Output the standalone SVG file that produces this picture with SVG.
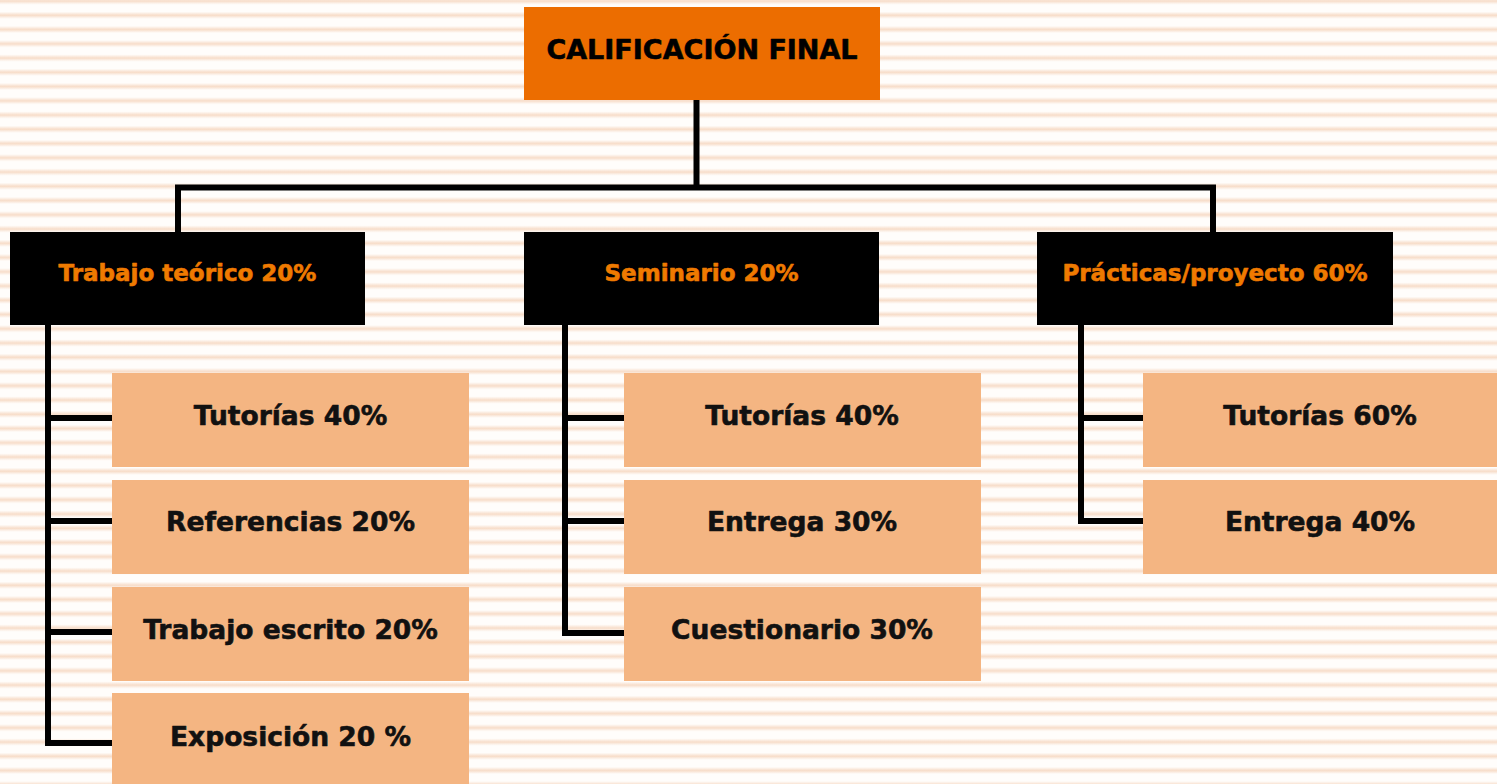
<svg xmlns="http://www.w3.org/2000/svg" width="1497" height="784" viewBox="0 0 1497 784">
<defs>
<linearGradient id="sg" x1="0" y1="0" x2="0" y2="1">
<stop offset="0" stop-color="#fffdfb"/>
<stop offset="0.5" stop-color="#f7dcc8"/>
<stop offset="1" stop-color="#fffdfb"/>
</linearGradient>
<pattern id="stripes" patternUnits="userSpaceOnUse" x="0" y="-5" width="1497" height="14.25">
<rect x="0" y="0" width="1497" height="14.25" fill="#fffdfb"/>
<rect x="0" y="2.5" width="1497" height="7" fill="url(#sg)"/>
</pattern>
<style>
.title{fill:#ec6d00}
.cat{fill:#000000}
.item{fill:#f4b582}
.t{font-family:"DejaVu Sans","Verdana",sans-serif;font-weight:bold;text-anchor:middle;dominant-baseline:central;stroke-width:0.6px;stroke-linejoin:round}
.tt{font-size:27px;fill:#000;stroke:#000}
.ct{font-size:23px;fill:#ef7a00;stroke:#ef7a00}
.it{font-size:26.5px;fill:#111;stroke:#111}
.conn{fill:none;stroke:#000;stroke-width:6;stroke-linecap:square;stroke-linejoin:miter}
</style>
</defs>
<rect x="0" y="0" width="1497" height="784" fill="url(#stripes)"/>
<g id="connectors">
<path class="conn" d="M696.5 100 V187.5 M178 229 V187.5 H1213 V229"/>
<path class="conn" d="M48 325 V743 H112 M48 418 H112 M48 521 H112 M48 632 H112"/>
<path class="conn" d="M565 325 V633 H624 M565 418 H624 M565 521 H624"/>
<path class="conn" d="M1081 325 V521 H1143 M1081 418 H1143"/>
</g>
<g id="n-final">
<rect class="title" x="524" y="7" width="356" height="93"/>
<text class="t tt" x="702" y="49">CALIFICACIÓN FINAL</text>
</g>
<g id="n-teorico">
<rect class="cat" x="10" y="232" width="355" height="93"/>
<text class="t ct" x="187.5" y="273">Trabajo teórico 20%</text>
</g>
<g id="n-seminario">
<rect class="cat" x="524" y="232" width="355" height="93"/>
<text class="t ct" x="701.5" y="273">Seminario 20%</text>
</g>
<g id="n-practicas">
<rect class="cat" x="1037" y="232" width="356" height="93"/>
<text class="t ct" x="1215" y="273">Prácticas/proyecto 60%</text>
</g>
<g id="n-t-tutorias">
<rect class="item" x="112" y="373" width="357" height="94"/>
<text class="t it" x="290.5" y="415">Tutorías 40%</text>
</g>
<g id="n-t-referencias">
<rect class="item" x="112" y="480" width="357" height="94"/>
<text class="t it" x="290.5" y="521">Referencias 20%</text>
</g>
<g id="n-t-escrito">
<rect class="item" x="112" y="587" width="357" height="94"/>
<text class="t it" x="290.5" y="629">Trabajo escrito 20%</text>
</g>
<g id="n-t-exposicion">
<rect class="item" x="112" y="693" width="357" height="91"/>
<text class="t it" x="290.5" y="736">Exposición 20 %</text>
</g>
<g id="n-s-tutorias">
<rect class="item" x="624" y="373" width="357" height="94"/>
<text class="t it" x="802" y="415">Tutorías 40%</text>
</g>
<g id="n-s-entrega">
<rect class="item" x="624" y="480" width="357" height="94"/>
<text class="t it" x="802" y="521">Entrega 30%</text>
</g>
<g id="n-s-cuestionario">
<rect class="item" x="624" y="587" width="357" height="94"/>
<text class="t it" x="802" y="629">Cuestionario 30%</text>
</g>
<g id="n-p-tutorias">
<rect class="item" x="1143" y="373" width="354" height="94"/>
<text class="t it" x="1320" y="415">Tutorías 60%</text>
</g>
<g id="n-p-entrega">
<rect class="item" x="1143" y="480" width="354" height="94"/>
<text class="t it" x="1320" y="521">Entrega 40%</text>
</g>
</svg>
